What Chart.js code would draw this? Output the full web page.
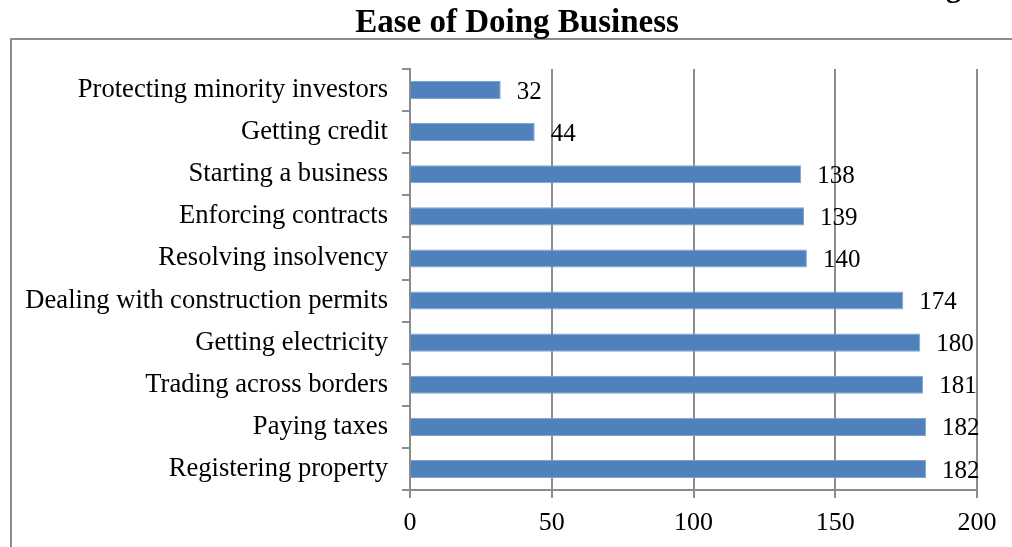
<!DOCTYPE html>
<html>
<head>
<meta charset="utf-8">
<script src="https://cdn.jsdelivr.net/npm/chart.js@4.4.1/dist/chart.umd.min.js"></script>
<style>
  html,body{margin:0;padding:0;background:#fff;overflow:hidden}
  #wrap{position:relative;width:1012px;height:547px}
  #frame{position:absolute;left:10px;top:38px;width:1100px;height:600px;border:2px solid #8c8c8c;box-sizing:border-box}
  canvas{position:absolute;left:0;top:0}
</style>
</head>
<body>
<div id="wrap">
  <div id="frame"></div>
  <canvas id="c" width="1012" height="547"></canvas>
</div>
<script>
const categories = ['Protecting minority investors','Getting credit','Starting a business','Enforcing contracts',
  'Resolving insolvency','Dealing with construction permits','Getting electricity','Trading across borders',
  'Paying taxes','Registering property'];
const ranks = [32, 44, 138, 139, 140, 174, 180, 181, 182, 182];
const xTicks = [0, 50, 100, 150, 200];
const titleText = 'Ease of Doing Business';

const FONT = "'Liberation Serif','Times New Roman',serif";
const GRID = '#8c8c8c';

const extras = {
  id: 'extras',
  afterDatasetsDraw(chart){
    const ctx = chart.ctx, xs = chart.scales.x;
    const meta = chart.getDatasetMeta(0);
    ctx.save();
    ctx.font = '25px ' + FONT;
    ctx.fillStyle = '#000';
    ctx.textAlign = 'left';
    ctx.textBaseline = 'middle';
    meta.data.forEach((bar, i) => {
      ctx.fillText(String(ranks[i]), xs.getPixelForValue(ranks[i]) + 16, bar.y + 2);
    });
    // title (centred over the whole figure frame, not the plot area)
    ctx.font = 'bold 33px ' + FONT;
    ctx.textAlign = 'center';
    ctx.textBaseline = 'alphabetic';
    ctx.fillText(titleText, 517, 32);
    // cut-off descender of the line above the title
    ctx.textAlign = 'left';
    ctx.font = 'bold 30px ' + FONT;
    ctx.fillText('g', 946, -3);
    ctx.restore();
  }
};

new Chart(document.getElementById('c'), {
  type: 'bar',
  data: {
    labels: categories,
    datasets: [{ data: ranks, backgroundColor: '#4F81BD', borderColor: '#7ea3d3', borderWidth: 1,
      barPercentage: 0.43, categoryPercentage: 1 }]
  },
  options: {
    indexAxis: 'y',
    responsive: false,
    animation: false,
    layout: { padding: { left: 0, right: 35, top: 69, bottom: 0 } },
    plugins: {
      legend: { display: false },
      tooltip: { enabled: false },
      title: { display: false }
    },
    scales: {
      x: {
        min: 0, max: 200,
        afterBuildTicks(s){ s.ticks = xTicks.map(v => ({ value: v })); },
        afterFit(s){ s.height = 57; },
        grid: { color: GRID, lineWidth: 2, tickLength: 8, drawOnChartArea: true },
        border: { color: GRID, width: 2 },
        ticks: { color: '#000', font: { family: FONT, size: 26 }, padding: 10 }
      },
      y: {
        afterFit(s){ s.width = 410; },
        grid: { color: GRID, lineWidth: 2, tickLength: 8, drawOnChartArea: false, offset: true },
        border: { color: GRID, width: 2 },
        ticks: { color: '#000', font: { family: FONT, size: 26.6 }, padding: 14 }
      }
    }
  },
  plugins: [extras]
});
</script>
</body>
</html>
